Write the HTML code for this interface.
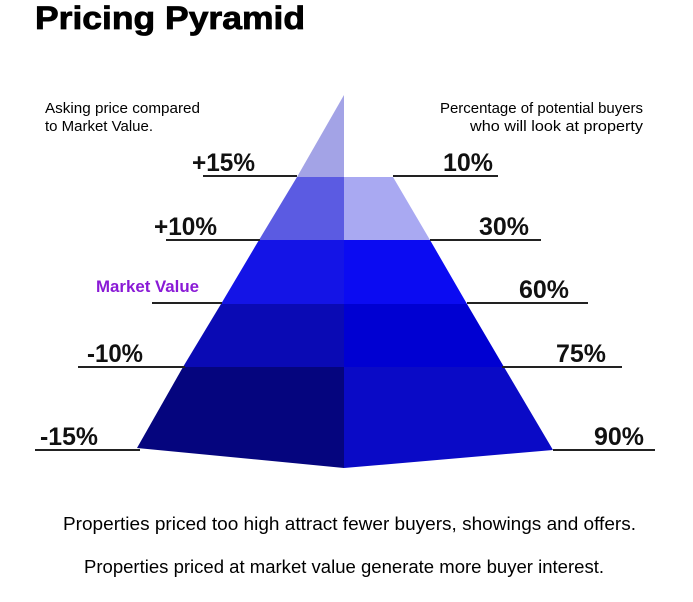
<!DOCTYPE html>
<html><head><style>
body{margin:0;background:#fff;width:693px;height:597px;overflow:hidden;font-family:"Liberation Sans",sans-serif}
</style></head><body>
<svg width="693" height="597" xmlns="http://www.w3.org/2000/svg" font-family="Liberation Sans, sans-serif">
<text x="35" y="29" font-size="32" font-weight="bold" textLength="270" lengthAdjust="spacingAndGlyphs" stroke="#000" stroke-width="0.8">Pricing Pyramid</text>
<text x="45" y="113" font-size="14.5" textLength="155" lengthAdjust="spacingAndGlyphs">Asking price compared</text>
<text x="45" y="131" font-size="14.5" textLength="108" lengthAdjust="spacingAndGlyphs">to Market Value.</text>
<text x="440" y="113" font-size="14.5" textLength="203" lengthAdjust="spacingAndGlyphs">Percentage of potential buyers</text>
<text x="470" y="131" font-size="14.5" textLength="173" lengthAdjust="spacingAndGlyphs">who will look at property</text>
<polygon points="344,95 297,177 344,177" fill="#a3a3e6"/>
<polygon points="297,177 344,177 344,240 259,240" fill="#5b5be2"/>
<polygon points="259,240 344,240 344,304 221,304" fill="#1414e6"/>
<polygon points="221,304 344,304 344,367 183,367" fill="#0a0ab4"/>
<polygon points="183,367 344,367 344,468 137,448" fill="#05057e"/>
<polygon points="344,177 393,177 430,240 344,240" fill="#a9a9f2"/>
<polygon points="344,240 430,240 467,304 344,304" fill="#0b0bf2"/>
<polygon points="344,304 467,304 504,367 344,367" fill="#0000d2"/>
<polygon points="344,367 504,367 553,450 344,468" fill="#0a0ac6"/>
<g stroke="#222" stroke-width="2">
<line x1="203" y1="176" x2="297" y2="176"/>
<line x1="166" y1="240" x2="260" y2="240"/>
<line x1="152" y1="303" x2="222" y2="303"/>
<line x1="78" y1="367" x2="185" y2="367"/>
<line x1="35" y1="450" x2="140" y2="450"/>
<line x1="393" y1="176" x2="498" y2="176"/>
<line x1="430" y1="240" x2="541" y2="240"/>
<line x1="467" y1="303" x2="588" y2="303"/>
<line x1="502" y1="367" x2="622" y2="367"/>
<line x1="553" y1="450" x2="655" y2="450"/>
</g>
<g font-size="25" font-weight="bold" fill="#111">
<text x="192" y="171" textLength="63" lengthAdjust="spacingAndGlyphs">+15%</text>
<text x="154" y="235" textLength="63" lengthAdjust="spacingAndGlyphs">+10%</text>
<text x="87" y="362" textLength="56" lengthAdjust="spacingAndGlyphs">-10%</text>
<text x="40" y="445" textLength="58" lengthAdjust="spacingAndGlyphs">-15%</text>
<text x="443" y="171" textLength="50" lengthAdjust="spacingAndGlyphs">10%</text>
<text x="479" y="235" textLength="50" lengthAdjust="spacingAndGlyphs">30%</text>
<text x="519" y="298" textLength="50" lengthAdjust="spacingAndGlyphs">60%</text>
<text x="556" y="362" textLength="50" lengthAdjust="spacingAndGlyphs">75%</text>
<text x="594" y="445" textLength="50" lengthAdjust="spacingAndGlyphs">90%</text>
</g>
<text x="96" y="292" font-size="17" font-weight="bold" fill="#8a1ad6" textLength="103" lengthAdjust="spacingAndGlyphs">Market Value</text>
<text x="63" y="530" font-size="18" textLength="573" lengthAdjust="spacingAndGlyphs">Properties priced too high attract fewer buyers, showings and offers.</text>
<text x="84" y="573" font-size="18" textLength="520" lengthAdjust="spacingAndGlyphs">Properties priced at market value generate more buyer interest.</text>
</svg>
</body></html>
